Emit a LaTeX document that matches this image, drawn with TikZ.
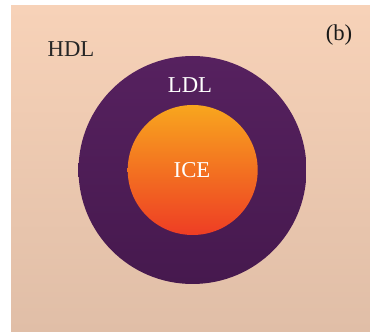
\documentclass[tikz,border=0pt]{standalone}
\usepackage{fontspec}
\setmainfont{Liberation Serif}
\usepackage{tikz}
\usetikzlibrary{calc}
\definecolor{hdltop}{HTML}{F7D2B8}
\definecolor{hdlbot}{HTML}{E0BEA7}
\definecolor{ldltop}{HTML}{56215F}
\definecolor{ldlbot}{HTML}{46194E}
\definecolor{icetop}{HTML}{F8A61E}
\definecolor{icebot}{HTML}{EE3D24}

\begin{document}
\begin{tikzpicture}[x=1pt,y=1pt,
  phase/.style={font=\fontsize{22.7}{26}\selectfont, inner sep=0pt}]
\useasboundingbox (0,0) rectangle (370,332);
\shade[top color=hdltop,bottom color=hdlbot] (11,0) rectangle (370,326);
%LDL shell and ICE core
\node (shell) at (192.5,162)[circle,minimum size=228pt,inner sep=0pt,
  top color=ldltop,bottom color=ldlbot] {};
\node (core) at (192.7,162)[circle,minimum size=130pt,inner sep=0pt,
  top color=icetop,bottom color=icebot] {};
%Labeling phases
\node[phase,text=black!85] (hdl) at (71,283) {HDL};
\node[phase,text=white] (ldl) at (190,247) {LDL};
\node[phase,text=white] (ice) at (192,162) {ICE};
\node[phase,text=black!90] (tag) at (339,297) {(b)};
\end{tikzpicture}
\end{document}
